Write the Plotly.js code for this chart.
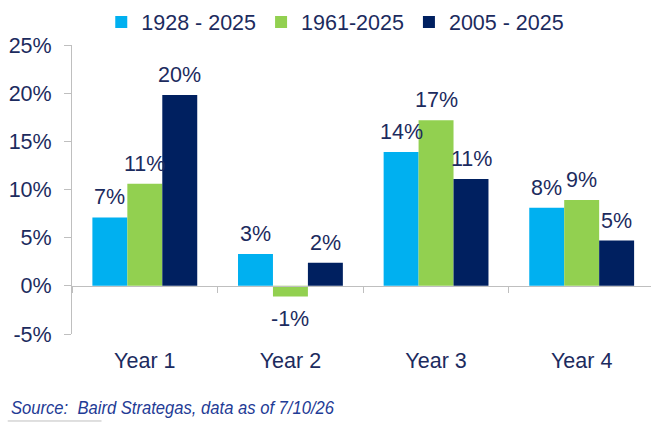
<!DOCTYPE html>
<html>
<head>
<meta charset="utf-8">
<script src="https://cdn.plot.ly/plotly-3.0.1.min.js"></script>
<style>
  html, body { margin: 0; padding: 0; background: #fff; }
  #graph { width: 651px; height: 431px; }
</style>
</head>
<body>
<div id="graph"></div>
<script>
// values (percent)
var years = ["Year 1", "Year 2", "Year 3", "Year 4"]
var seriesNames = ["1928 - 2025", "1961-2025", "2005 - 2025"]
var since1928 = [7.1, 3.3, 13.9, 8.1]
var since1961 = [10.6, -1.1, 17.2, 8.9]
var since2005 = [19.8, 2.4, 11.1, 4.7]
var colors = ["#00B0F0", "#92D050", "#002060"]

// y ticks (plain hyphen for the minus, like the original)
var yTicks = [-5, 0, 5, 10, 15, 20, 25]
var yTickText = ["-5%", "0%", "5%", "10%", "15%", "20%", "25%"]

var textColor = "#1C2B5E"
var font = "Liberation Sans, Arial, sans-serif"
var fs = 21.5

var allSeries = [since1928, since1961, since2005]
var graphData = []
var labels = []

var gap = 0.28
var barW = (1 - gap) / 3

for (var i = 0; i < allSeries.length; i++) {
    graphData.push({
        x: years,
        y: allSeries[i],
        type: "bar",
        name: seriesNames[i],
        marker: {color: colors[i]},
        hoverinfo: "none"
    })
    // value labels above / below each bar
    for (var j = 0; j < years.length; j++) {
        var v = allSeries[i][j]
        labels.push({
            x: j + (i - 1) * barW,
            y: v,
            xref: "x",
            yref: "y",
            text: Math.round(v) + "%",
            showarrow: false,
            yanchor: "middle",
            yshift: v >= 0 ? 20 : -23,
            font: {family: font, size: fs, color: textColor}
        })
    }
}

labels.push({
    text: "Source:  Baird Strategas, data as of 7/10/26",
    xref: "paper",
    yref: "paper",
    x: -0.108,
    y: -0.256,
    xanchor: "left",
    yanchor: "middle",
    align: "left",
    showarrow: false,
    font: {family: font, size: 19, color: "#1F3C96", style: "italic"}
})

var layout = {
    width: 651,
    height: 431,
    margin: {l: 71.5, r: 0, t: 45, b: 97},
    paper_bgcolor: "#fff",
    plot_bgcolor: "#fff",
    barmode: "group",
    bargap: gap,
    bargroupgap: 0,
    font: {family: font, size: fs, color: textColor},
    showlegend: true,
    legend: {
        orientation: "h",
        xref: "container",
        yref: "container",
        x: 0.515,
        y: 0.949,
        xanchor: "center",
        yanchor: "middle",
        font: {family: font, size: fs, color: textColor},
        itemclick: false
    },
    xaxis: {
        type: "category",
        range: [-0.5, 3.476],
        anchor: "free",
        position: 5 / 30,
        showline: true,
        linecolor: "#BFBFBF",
        linewidth: 1,
        ticks: "outside",
        tickson: "boundaries",
        ticklen: 6,
        tickcolor: "#BFBFBF",
        ticklabelstandoff: 55,
        showgrid: false,
        zeroline: false,
        tickfont: {family: font, size: fs, color: textColor},
        fixedrange: true
    },
    yaxis: {
        range: [-5, 25],
        tickmode: "array",
        tickvals: yTicks,
        ticktext: yTickText,
        showline: true,
        linecolor: "#BFBFBF",
        linewidth: 1,
        ticks: "outside",
        ticklen: 7,
        tickcolor: "#BFBFBF",
        ticklabelstandoff: 8,
        showgrid: false,
        zeroline: false,
        tickfont: {family: font, size: fs, color: textColor},
        fixedrange: true
    },
    annotations: labels,
    shapes: [{
        type: "line",
        xref: "paper",
        yref: "paper",
        x0: -0.111,
        x1: 0.051,
        y0: -0.301,
        y1: -0.301,
        line: {color: "#BFBFBF", width: 1}
    }]
}

Plotly.newPlot("graph", graphData, layout, {displayModeBar: false, staticPlot: true}).then(function(gd){
    // the source line is set in a narrow face in the original: squeeze it
    var texts = gd.querySelectorAll(".annotation-text")
    for (var k = 0; k < texts.length; k++) {
        if (texts[k].textContent.indexOf("Source") === 0) {
            texts[k].setAttribute("textLength", 323)
            texts[k].setAttribute("lengthAdjust", "spacingAndGlyphs")
        }
    }
})
</script>
</body>
</html>
